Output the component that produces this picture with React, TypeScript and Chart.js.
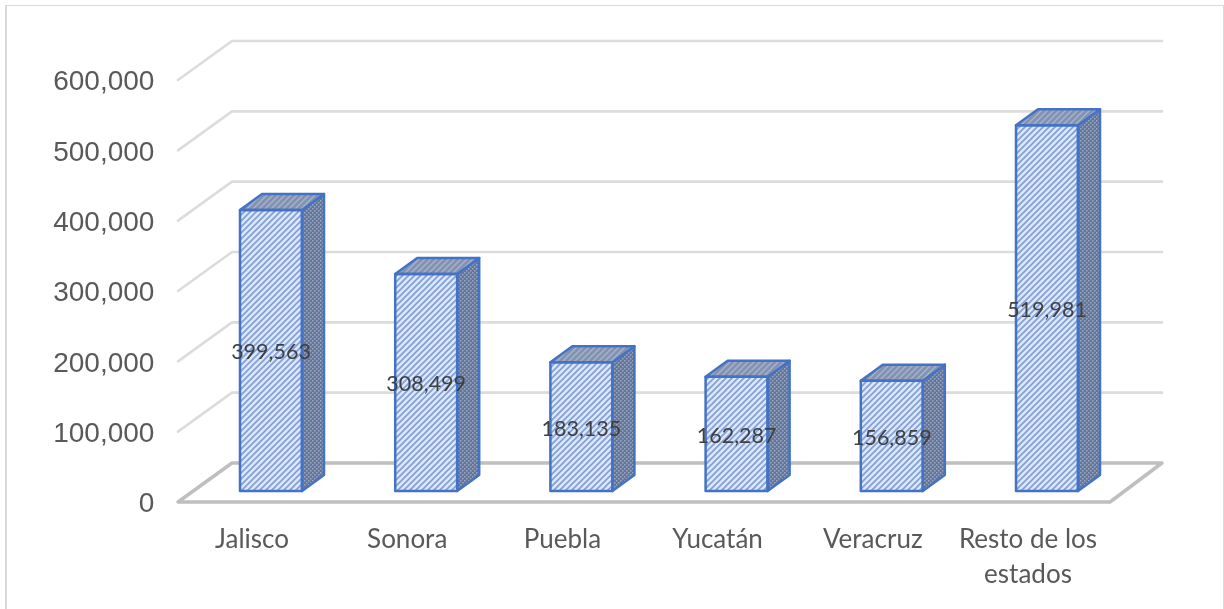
import React, { useEffect, useRef } from "react";
import { Chart, registerables } from "chart.js";

Chart.register(...registerables);

const categories = ["Jalisco", "Sonora", "Puebla", "Yucatán", "Veracruz", ["Resto de los", "estados"]];
const seriesValues = [399563, 308499, 183135, 162287, 156859, 519981];
const tickValues = [0, 100000, 200000, 300000, 400000, 500000, 600000];

const fmt = (v: number) => v.toLocaleString("en-US");

function stripePattern(bg: string, fg: string, size: number, width: number) {
  const c = document.createElement("canvas");
  c.width = size;
  c.height = size;
  const g = c.getContext("2d")!;
  g.fillStyle = bg;
  g.fillRect(0, 0, size, size);
  g.strokeStyle = fg;
  g.lineWidth = width;
  [[-size, size, size, -size], [0, size, size, 0], [0, 2 * size, 2 * size, 0]].forEach(([a, b, d, e]) => {
    g.beginPath();
    g.moveTo(a, b);
    g.lineTo(d, e);
    g.stroke();
  });
  return g.createPattern(c, "repeat")!;
}

function dotPattern(bg: string, fg: string, size: number) {
  const c = document.createElement("canvas");
  c.width = size;
  c.height = size;
  const g = c.getContext("2d")!;
  g.fillStyle = bg;
  g.fillRect(0, 0, size, size);
  g.fillStyle = fg;
  g.fillRect(0, 0, 1.5, 1.5);
  g.fillRect(size / 2, size / 2, 1.5, 1.5);
  return g.createPattern(c, "repeat")!;
}

const DEPTH_BAR = { x: 22, y: -16 };
const DEPTH_WALL = { x: 54, y: -39 };
const TICK_DROP = 11;
const LABEL_DROP = 13.5;
const WALL_LEFT = 178;
const WALL_RIGHT = 1110;
const BLUE = "#4472c4";

const wallPlugin = {
  id: "wall",
  beforeDatasetsDraw(chart: any) {
    const { ctx, scales } = chart;
    const y = scales.y;
    ctx.save();
    ctx.lineCap = "round";
    ctx.lineJoin = "round";
    tickValues.forEach((v) => {
      const py = y.getPixelForValue(v) + TICK_DROP;
      ctx.beginPath();
      ctx.strokeStyle = v === 0 ? "#bfbfbf" : "#dcdcdc";
      ctx.lineWidth = v === 0 ? 3.5 : 2.6;
      ctx.moveTo(WALL_LEFT, py);
      ctx.lineTo(WALL_LEFT + DEPTH_WALL.x, py + DEPTH_WALL.y);
      ctx.lineTo(WALL_RIGHT + DEPTH_WALL.x - 2, py + DEPTH_WALL.y);
      if (v === 0) {
        ctx.lineTo(WALL_RIGHT, py);
        ctx.closePath();
      }
      ctx.stroke();
    });
    ctx.restore();
  },
  afterDatasetsDraw(chart: any) {
    const { ctx } = chart;
    const meta = chart.getDatasetMeta(0);
    const side = dotPattern("#64759a", "#9aa8c4", 4);
    const top = stripePattern("#8392b2", "#a6b2ca", 6, 1.5);
    ctx.save();
    ctx.lineJoin = "round";
    ctx.lineWidth = 2.5;
    ctx.strokeStyle = BLUE;
    meta.data.forEach((bar: any) => {
      const half = bar.width / 2;
      const l = bar.x - half;
      const r = bar.x + half;
      const t = bar.y;
      const b = bar.base;
      ctx.beginPath();
      ctx.moveTo(r, t);
      ctx.lineTo(r + DEPTH_BAR.x, t + DEPTH_BAR.y);
      ctx.lineTo(r + DEPTH_BAR.x, b + DEPTH_BAR.y);
      ctx.lineTo(r, b);
      ctx.closePath();
      ctx.fillStyle = side;
      ctx.fill();
      ctx.stroke();
      ctx.beginPath();
      ctx.moveTo(l, t);
      ctx.lineTo(l + DEPTH_BAR.x, t + DEPTH_BAR.y);
      ctx.lineTo(r + DEPTH_BAR.x, t + DEPTH_BAR.y);
      ctx.lineTo(r, t);
      ctx.closePath();
      ctx.fillStyle = top;
      ctx.fill();
      ctx.stroke();
      ctx.strokeRect(l, t, r - l, b - t);
    });
    ctx.fillStyle = "#404040";
    ctx.font = '21.5px Lato, "Open Sans", sans-serif';
    ctx.textAlign = "center";
    ctx.textBaseline = "middle";
    meta.data.forEach((bar: any, i: number) => {
      ctx.fillText(fmt(seriesValues[i]), bar.x, (bar.y + bar.base) / 2 + 2);
    });
    ctx.restore();
  },
};

export default function App() {
  const ref = useRef<HTMLCanvasElement>(null);
  useEffect(() => {
    document.body.style.margin = "0";
    const g = ref.current!.getContext("2d")!;
    const chart = new Chart(g, {
      type: "bar",
      data: {
        labels: categories as any,
        datasets: [
          {
            data: seriesValues,
            backgroundColor: stripePattern("#dfe7f5", "#7fa0dc", 6, 1.7) as any,
            borderWidth: 0,
            barThickness: 62,
          },
        ],
      },
      options: {
        animation: false,
        responsive: false,
        maintainAspectRatio: false,
        layout: { padding: { top: 69, right: 99.4, left: 0, bottom: 0 } },
        plugins: { legend: { display: false }, tooltip: { enabled: false } },
        scales: {
          x: {
            grid: { display: false },
            border: { display: false },
            afterFit: (s: any) => {
              s.height = 118;
            },
            ticks: {
              color: "#595959",
              font: { family: 'Lato, "Open Sans", sans-serif', size: 26, lineHeight: 1.35 },
              labelOffset: -19,
              padding: 23,
              maxRotation: 0,
              autoSkip: false,
            },
          },
          y: {
            min: 0,
            max: 600000,
            grid: { display: false },
            border: { display: false },
            afterFit: (s: any) => {
              s.width = 193.4;
            },
            afterBuildTicks: (s: any) => {
              s.ticks = tickValues.map((value) => ({ value }));
            },
            ticks: {
              color: "#595959",
              font: { family: '"Liberation Sans", Arial, sans-serif', size: 28 },
              labelOffset: LABEL_DROP,
              padding: 31,
              callback: (v: any) => fmt(Number(v)),
            },
          },
        },
      },
      plugins: [wallPlugin],
    });
    return () => chart.destroy();
  }, []);
  return (
    <div style={{ position: "relative", width: 1224, height: 609, overflow: "hidden", background: "#fff" }}>
      <canvas ref={ref} width={1224} height={609} style={{ display: "block" }} />
      <div
        style={{
          position: "absolute",
          left: 5,
          top: 5,
          right: 0,
          bottom: -5,
          borderTop: "1.5px solid #d9d9d9",
          borderLeft: "2px solid #d9d9d9",
          borderRight: "1.5px solid #d9d9d9",
          pointerEvents: "none",
        }}
      />
    </div>
  );
}
